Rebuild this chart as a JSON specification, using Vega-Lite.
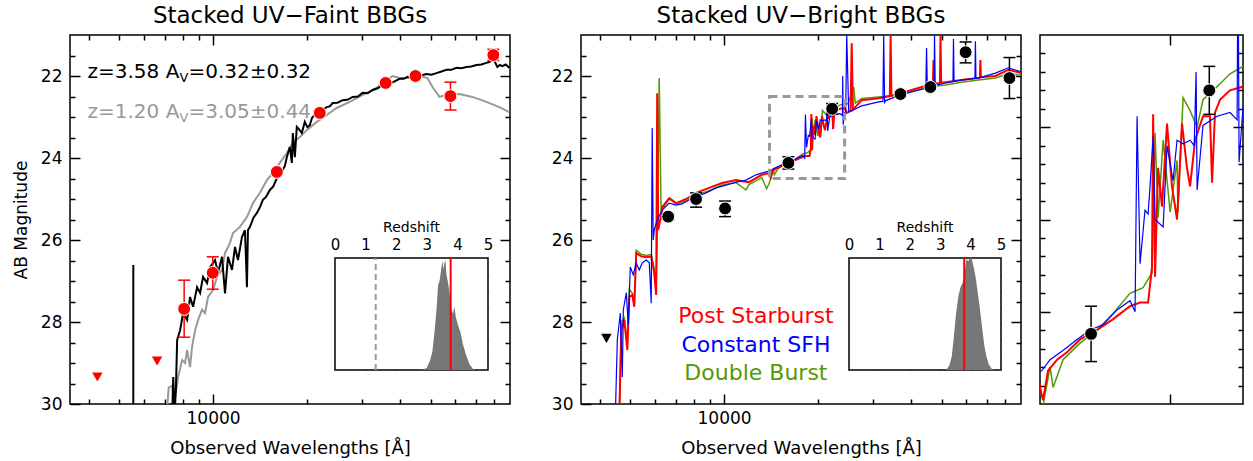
{
"$schema": "https://vega.github.io/schema/vega-lite/v6.json",
"background": "white",
"padding": {"left": 11, "top": 4, "right": 0, "bottom": 0},
"config": {
  "view": {"stroke": "black", "strokeWidth": 1.5},
  "font": "DejaVu Sans",
  "axis": {"zindex": 1, "grid": false, "domain": false, "labelFlush": false, "labelOverlap": false, "tickColor": "black", "tickWidth": 1.5, "labelColor": "black", "labelFont": "DejaVu Sans", "labelFontSize": 17, "titleFont": "DejaVu Sans", "titleFontSize": 18, "titleFontWeight": "normal", "titleColor": "black"},
  "title": {"font": "DejaVu Sans", "fontSize": 23, "fontWeight": "normal", "color": "black", "baseline": "alphabetic", "offset": 6}
},
"datasets": {
  "faint": [
    {"w":7389,"m":30.3,"s":"k"},{"w":7450,"m":29.34,"s":"k"},{"w":7520,"m":30.3,"s":"k"},{"w":7600,"m":29.6,"s":"k"},{"w":7667,"m":28.44,"s":"k"},{"w":7838,"m":28.2,"s":"k"},{"w":8014,"m":27.78,"s":"k"},{"w":8254,"m":27.95,"s":"k"},{"w":8437,"m":27.39,"s":"k"},{"w":8627,"m":27.63,"s":"k"},{"w":8886,"m":27.15,"s":"k"},{"w":9086,"m":27.29,"s":"k"},{"w":9289,"m":26.9,"s":"k"},{"w":9567,"m":27.05,"s":"k"},{"w":9781,"m":26.66,"s":"k"},{"w":10149,"m":26.49,"s":"k"},{"w":10376,"m":26.8,"s":"k"},{"w":10687,"m":26.41,"s":"k"},{"w":10925,"m":27.3,"s":"k"},{"w":11170,"m":26.41,"s":"k"},{"w":11505,"m":26.73,"s":"k"},{"w":11763,"m":26.17,"s":"k"},{"w":12025,"m":26.49,"s":"k"},{"w":12386,"m":25.93,"s":"k"},{"w":12663,"m":25.76,"s":"k"},{"w":12851,"m":27.15,"s":"k"},{"w":12946,"m":25.76,"s":"k"},{"w":13139,"m":25.68,"s":"k"},{"w":13500,"m":25.45,"s":"k"},{"w":13837,"m":25.34,"s":"k"},{"w":14150,"m":25.2,"s":"k"},{"w":14463,"m":25.02,"s":"k"},{"w":14800,"m":24.95,"s":"k"},{"w":15229,"m":24.78,"s":"k"},{"w":15600,"m":24.7,"s":"k"},{"w":16036,"m":24.49,"s":"k"},{"w":16400,"m":24.42,"s":"k"},{"w":16762,"m":24.29,"s":"k"},{"w":17000,"m":24.2,"s":"k"},{"w":17264,"m":23.98,"s":"k"},{"w":17650,"m":23.73,"s":"k"},{"w":17913,"m":24.12,"s":"k"},{"w":18046,"m":23.39,"s":"k"},{"w":18314,"m":23.98,"s":"k"},{"w":18587,"m":23.24,"s":"k"},{"w":18900,"m":23.3,"s":"k"},{"w":19285,"m":23.39,"s":"k"},{"w":19716,"m":23.12,"s":"k"},{"w":20100,"m":23.25,"s":"k"},{"w":20457,"m":23.2,"s":"k"},{"w":20800,"m":23.02,"s":"k"},{"w":21225,"m":22.95,"s":"k"},{"w":21600,"m":22.97,"s":"k"},{"w":22025,"m":22.88,"s":"k"},{"w":22600,"m":22.82,"s":"k"},{"w":23191,"m":22.76,"s":"k"},{"w":23700,"m":22.74,"s":"k"},{"w":24242,"m":22.66,"s":"k"},{"w":25100,"m":22.65,"s":"k"},{"w":26102,"m":22.59,"s":"k"},{"w":27000,"m":22.58,"s":"k"},{"w":28105,"m":22.51,"s":"k"},{"w":29200,"m":22.5,"s":"k"},{"w":30261,"m":22.41,"s":"k"},{"w":31400,"m":22.42,"s":"k"},{"w":32583,"m":22.34,"s":"k"},{"w":33800,"m":22.3,"s":"k"},{"w":35083,"m":22.22,"s":"k"},{"w":36200,"m":22.22,"s":"k"},{"w":37485,"m":22.17,"s":"k"},{"w":38600,"m":22.12,"s":"k"},{"w":39766,"m":22.07,"s":"k"},{"w":41000,"m":22.07,"s":"k"},{"w":42170,"m":22.02,"s":"k"},{"w":43600,"m":22.04,"s":"k"},{"w":45073,"m":22.0,"s":"k"},{"w":46800,"m":21.98,"s":"k"},{"w":48529,"m":21.95,"s":"k"},{"w":50300,"m":21.97,"s":"k"},{"w":52251,"m":21.93,"s":"k"},{"w":54200,"m":21.89,"s":"k"},{"w":56234,"m":21.85,"s":"k"},{"w":58300,"m":21.85,"s":"k"},{"w":60547,"m":21.8,"s":"k"},{"w":62800,"m":21.81,"s":"k"},{"w":65190,"m":21.78,"s":"k"},{"w":67600,"m":21.77,"s":"k"},{"w":70191,"m":21.73,"s":"k"},{"w":72800,"m":21.72,"s":"k"},{"w":75555,"m":21.68,"s":"k"},{"w":77200,"m":21.66,"s":"k"},{"w":78976,"m":21.6,"s":"k"},{"w":80400,"m":21.65,"s":"k"},{"w":81942,"m":21.78,"s":"k"},{"w":83500,"m":21.73,"s":"k"},{"w":85027,"m":21.76,"s":"k"},{"w":87200,"m":21.72,"s":"k"},{"w":89529,"m":21.8,"s":"k"},
    {"w":7121,"m":30.1,"s":"g"},{"w":7200,"m":29.6,"s":"g"},{"w":7389,"m":29.55,"s":"g"},{"w":7500,"m":30.0,"s":"g"},{"w":7724,"m":29.34,"s":"g"},{"w":7955,"m":28.93,"s":"g"},{"w":8133,"m":29.0,"s":"g"},{"w":8254,"m":28.68,"s":"g"},{"w":8437,"m":29.1,"s":"g"},{"w":8564,"m":28.6,"s":"g"},{"w":8757,"m":28.2,"s":"g"},{"w":8952,"m":27.95,"s":"g"},{"w":9220,"m":27.7,"s":"g"},{"w":9427,"m":27.78,"s":"g"},{"w":9638,"m":27.39,"s":"g"},{"w":10000,"m":27.22,"s":"g"},{"w":10300,"m":26.9,"s":"g"},{"w":10687,"m":26.73,"s":"g"},{"w":10925,"m":26.32,"s":"g"},{"w":11336,"m":26.07,"s":"g"},{"w":11590,"m":25.83,"s":"g"},{"w":12204,"m":25.68,"s":"g"},{"w":12851,"m":25.44,"s":"g"},{"w":13434,"m":25.1,"s":"g"},{"w":14146,"m":24.85,"s":"g"},{"w":14896,"m":24.54,"s":"g"},{"w":15570,"m":24.37,"s":"g"},{"w":16395,"m":24.12,"s":"g"},{"w":17264,"m":23.88,"s":"g"},{"w":18046,"m":23.63,"s":"g"},{"w":19004,"m":23.49,"s":"g"},{"w":20009,"m":23.32,"s":"g"},{"w":21544,"m":23.12,"s":"g"},{"w":23191,"m":22.95,"s":"g"},{"w":24970,"m":22.78,"s":"g"},{"w":27490,"m":22.63,"s":"g"},{"w":30261,"m":22.46,"s":"g"},{"w":33557,"m":22.29,"s":"g"},{"w":36131,"m":22.1,"s":"g"},{"w":37762,"m":22.0,"s":"g"},{"w":39766,"m":22.05,"s":"g"},{"w":42800,"m":22.05,"s":"g"},{"w":46080,"m":22.0,"s":"g"},{"w":48888,"m":22.05,"s":"g"},{"w":50730,"m":22.27,"s":"g"},{"w":53417,"m":22.51,"s":"g"},{"w":56234,"m":22.46,"s":"g"},{"w":61888,"m":22.44,"s":"g"},{"w":68129,"m":22.51,"s":"g"},{"w":75555,"m":22.63,"s":"g"},{"w":83161,"m":22.76,"s":"g"},{"w":89529,"m":22.88,"s":"g"}
  ],
  "faintpts": [
    {"w":8075,"m":27.68,"lo":26.98,"hi":28.37},{"w":9978,"m":26.8,"lo":26.41,"hi":27.2},{"w":16036,"m":24.34,"lo":24.29,"hi":24.39},{"w":22025,"m":22.9,"lo":22.85,"hi":22.95},{"w":35862,"m":22.17,"lo":22.14,"hi":22.2},{"w":44728,"m":22.0,"lo":21.97,"hi":22.03},{"w":57928,"m":22.49,"lo":22.15,"hi":22.83},{"w":79560,"m":21.49,"lo":21.35,"hi":21.62}
  ],
  "faintlim": [{"w":4250,"m":29.34},{"w":6610,"m":28.95}],
  "fitlabels": [
    {"w":3950,"m":21.9,"k":"a","p1":"z=3.58 A","p2":"V","p3":"=0.32±0.32"},
    {"w":3950,"m":22.88,"k":"b","p1":"z=1.20 A","p2":"V","p3":"=3.05±0.44"}
  ],
  "bright": [
    {"w":4473,"m":30.3,"s":"b"},{"w":4540,"m":28.44,"s":"b"},{"w":4642,"m":27.78,"s":"b"},{"w":4710,"m":29.34,"s":"b"},{"w":4746,"m":27.7,"s":"b"},{"w":4852,"m":27.29,"s":"b"},{"w":4924,"m":28.07,"s":"b"},{"w":4997,"m":26.66,"s":"b"},{"w":5109,"m":26.85,"s":"b"},{"w":5223,"m":26.56,"s":"b"},{"w":5340,"m":26.73,"s":"b"},{"w":5459,"m":26.56,"s":"b"},{"w":5623,"m":26.49,"s":"b"},{"w":5749,"m":26.55,"s":"b"},{"w":5834,"m":27.54,"s":"b"},{"w":5877,"m":23.27,"s":"b"},{"w":5920,"m":26.0,"s":"b"},{"w":5965,"m":25.76,"s":"b"},{"w":6099,"m":25.51,"s":"b"},{"w":6328,"m":25.27,"s":"b"},{"w":6664,"m":25.1,"s":"b"},{"w":7017,"m":25.15,"s":"b"},{"w":7334,"m":25.12,"s":"b"},{"w":7724,"m":25.02,"s":"b"},{"w":8133,"m":24.95,"s":"b"},{"w":8757,"m":24.85,"s":"b"},{"w":9427,"m":24.73,"s":"b"},{"w":10149,"m":24.66,"s":"b"},{"w":10925,"m":24.59,"s":"b"},{"w":11763,"m":24.54,"s":"b"},{"w":12663,"m":24.41,"s":"b"},{"w":13634,"m":24.34,"s":"b"},
    {"w":14065,"m":24.32,"s":"b"},{"w":14390,"m":24.26,"s":"b"},{"w":14910,"m":24.21,"s":"b"},{"w":15490,"m":24.15,"s":"b"},{"w":16050,"m":24.1,"s":"b"},{"w":16640,"m":24.07,"s":"b"},{"w":17280,"m":23.99,"s":"b"},{"w":17910,"m":23.94,"s":"b"},{"w":18160,"m":24.0,"s":"b"},{"w":18260,"m":22.94,"s":"b"},{"w":18410,"m":23.74,"s":"b"},{"w":18660,"m":23.45,"s":"b"},{"w":18820,"m":23.47,"s":"b"},{"w":18920,"m":23.32,"s":"b"},{"w":19080,"m":23.05,"s":"b"},{"w":19180,"m":23.5,"s":"b"},{"w":19610,"m":23.54,"s":"b"},{"w":19820,"m":23.1,"s":"b"},{"w":20150,"m":23.29,"s":"b"},{"w":20370,"m":23.07,"s":"b"},{"w":20710,"m":23.09,"s":"b"},{"w":21110,"m":23.07,"s":"b"},{"w":21350,"m":23.1,"s":"b"},{"w":21460,"m":22.7,"s":"b"},{"w":21520,"m":23.34,"s":"b"},{"w":21870,"m":22.99,"s":"b"},{"w":22730,"m":22.94,"s":"b"},{"w":23550,"m":22.92,"s":"b"},{"w":24010,"m":22.96,"s":"b"},{"w":24070,"m":22.0,"s":"b"},{"w":24140,"m":23.19,"s":"b"},{"w":24400,"m":22.89,"s":"b"},
    {"w":24603,"m":22.9,"s":"b"},{"w":24785,"m":21.0,"s":"b"},{"w":25154,"m":22.88,"s":"b"},{"w":27693,"m":22.73,"s":"b"},{"w":31392,"m":22.63,"s":"b"},{"w":32400,"m":22.62,"s":"b"},{"w":32583,"m":21.0,"s":"b"},{"w":32800,"m":22.64,"s":"b"},{"w":33068,"m":22.6,"s":"b"},{"w":35600,"m":22.51,"s":"b"},{"w":40058,"m":22.39,"s":"b"},{"w":44500,"m":22.3,"s":"b"},{"w":44741,"m":21.32,"s":"b"},{"w":45000,"m":22.28,"s":"b"},{"w":45406,"m":22.27,"s":"b"},{"w":47300,"m":22.24,"s":"b"},{"w":47463,"m":21.0,"s":"b"},{"w":47700,"m":22.23,"s":"b"},{"w":51485,"m":22.17,"s":"b"},{"w":54400,"m":22.14,"s":"b"},{"w":54605,"m":21.1,"s":"b"},{"w":54850,"m":22.13,"s":"b"},{"w":57928,"m":22.1,"s":"b"},{"w":64000,"m":22.06,"s":"b"},{"w":64235,"m":21.15,"s":"b"},{"w":64500,"m":22.05,"s":"b"},{"w":65674,"m":22.05,"s":"b"},{"w":74447,"m":21.93,"s":"b"},{"w":81942,"m":21.8,"s":"b"},{"w":90192,"m":21.9,"s":"b"},
    {"w":4607,"m":30.3,"s":"r"},{"w":4676,"m":28.2,"s":"r"},{"w":4781,"m":27.95,"s":"r"},{"w":4888,"m":28.68,"s":"r"},{"w":4960,"m":27.39,"s":"r"},{"w":5072,"m":27.34,"s":"r"},{"w":5146,"m":27.63,"s":"r"},{"w":5223,"m":26.32,"s":"r"},{"w":5419,"m":26.4,"s":"r"},{"w":5623,"m":26.42,"s":"r"},{"w":5834,"m":26.4,"s":"r"},{"w":5965,"m":26.8,"s":"r"},{"w":6052,"m":27.34,"s":"r"},{"w":6099,"m":22.42,"s":"r"},{"w":6143,"m":25.76,"s":"r"},{"w":6281,"m":25.4,"s":"r"},{"w":6328,"m":25.2,"s":"r"},{"w":6664,"m":24.98,"s":"r"},{"w":7017,"m":25.1,"s":"r"},{"w":7554,"m":25.0,"s":"r"},{"w":8133,"m":24.85,"s":"r"},{"w":8952,"m":24.73,"s":"r"},{"w":9854,"m":24.61,"s":"r"},{"w":10925,"m":24.54,"s":"r"},{"w":12025,"m":24.59,"s":"r"},{"w":13238,"m":24.41,"s":"r"},{"w":13940,"m":24.37,"s":"r"},
    {"w":14115,"m":24.48,"s":"r"},{"w":14310,"m":24.32,"s":"r"},{"w":14670,"m":24.26,"s":"r"},{"w":15070,"m":24.22,"s":"r"},{"w":15620,"m":24.15,"s":"r"},{"w":16360,"m":24.1,"s":"r"},{"w":17100,"m":24.04,"s":"r"},{"w":17910,"m":23.97,"s":"r"},{"w":18410,"m":23.95,"s":"r"},{"w":18820,"m":23.95,"s":"r"},{"w":19020,"m":23.76,"s":"r"},{"w":19080,"m":22.93,"s":"r"},{"w":19180,"m":23.81,"s":"r"},{"w":19340,"m":23.22,"s":"r"},{"w":19550,"m":23.43,"s":"r"},{"w":19820,"m":22.98,"s":"r"},{"w":20090,"m":23.32,"s":"r"},{"w":20370,"m":23.5,"s":"r"},{"w":20650,"m":22.98,"s":"r"},{"w":20930,"m":23.22,"s":"r"},{"w":21110,"m":23.32,"s":"r"},{"w":21400,"m":23.07,"s":"r"},{"w":21870,"m":22.94,"s":"r"},{"w":22290,"m":22.94,"s":"r"},{"w":22420,"m":23.3,"s":"r"},{"w":22600,"m":22.92,"s":"r"},{"w":22920,"m":22.85,"s":"r"},{"w":23550,"m":22.8,"s":"r"},{"w":24400,"m":22.78,"s":"r"},
    {"w":24785,"m":22.9,"s":"r"},{"w":25500,"m":22.85,"s":"r"},{"w":25719,"m":21.2,"s":"r"},{"w":25950,"m":22.82,"s":"r"},{"w":27693,"m":22.59,"s":"r"},{"w":31392,"m":22.54,"s":"r"},{"w":34100,"m":22.49,"s":"r"},{"w":34296,"m":21.0,"s":"r"},{"w":34500,"m":22.48,"s":"r"},{"w":35600,"m":22.46,"s":"r"},{"w":40058,"m":22.34,"s":"r"},{"w":45406,"m":22.22,"s":"r"},{"w":46900,"m":22.2,"s":"r"},{"w":47114,"m":21.61,"s":"r"},{"w":47350,"m":22.19,"s":"r"},{"w":49400,"m":22.17,"s":"r"},{"w":49614,"m":21.0,"s":"r"},{"w":49850,"m":22.16,"s":"r"},{"w":51485,"m":22.15,"s":"r"},{"w":57928,"m":22.1,"s":"r"},{"w":66400,"m":22.04,"s":"r"},{"w":66650,"m":21.61,"s":"r"},{"w":66900,"m":22.03,"s":"r"},{"w":74447,"m":22.0,"s":"r"},{"w":81942,"m":21.85,"s":"r"},{"w":90192,"m":21.93,"s":"r"},
    {"w":4607,"m":30.3,"s":"gr"},{"w":4676,"m":28.0,"s":"gr"},{"w":4781,"m":27.9,"s":"gr"},{"w":4888,"m":28.5,"s":"gr"},{"w":4960,"m":27.2,"s":"gr"},{"w":5072,"m":27.3,"s":"gr"},{"w":5146,"m":27.55,"s":"gr"},{"w":5223,"m":26.25,"s":"gr"},{"w":5419,"m":26.35,"s":"gr"},{"w":5623,"m":26.38,"s":"gr"},{"w":5834,"m":26.35,"s":"gr"},{"w":5965,"m":26.7,"s":"gr"},{"w":6052,"m":27.1,"s":"gr"},{"w":6099,"m":26.0,"s":"gr"},{"w":6190,"m":22.05,"s":"gr"},{"w":6281,"m":25.5,"s":"gr"},{"w":6328,"m":25.25,"s":"gr"},{"w":6664,"m":25.0,"s":"gr"},{"w":7017,"m":25.12,"s":"gr"},{"w":7554,"m":25.05,"s":"gr"},{"w":8133,"m":24.9,"s":"gr"},{"w":8952,"m":24.8,"s":"gr"},{"w":9854,"m":24.66,"s":"gr"},{"w":10925,"m":24.6,"s":"gr"},{"w":11763,"m":24.78,"s":"gr"},{"w":12025,"m":24.65,"s":"gr"},{"w":13238,"m":24.48,"s":"gr"},{"w":13700,"m":24.75,"s":"gr"},{"w":14000,"m":24.6,"s":"gr"},
    {"w":14390,"m":24.3,"s":"gr"},{"w":14510,"m":24.41,"s":"gr"},{"w":14910,"m":24.26,"s":"gr"},{"w":15620,"m":24.17,"s":"gr"},{"w":16360,"m":24.1,"s":"gr"},{"w":17100,"m":24.01,"s":"gr"},{"w":17910,"m":23.9,"s":"gr"},{"w":18560,"m":23.87,"s":"gr"},{"w":19020,"m":23.79,"s":"gr"},{"w":19180,"m":23.03,"s":"gr"},{"w":19340,"m":23.49,"s":"gr"},{"w":19610,"m":23.07,"s":"gr"},{"w":19990,"m":23.46,"s":"gr"},{"w":20370,"m":23.18,"s":"gr"},{"w":20420,"m":23.46,"s":"gr"},{"w":20710,"m":22.84,"s":"gr"},{"w":21110,"m":22.91,"s":"gr"},{"w":21520,"m":23.0,"s":"gr"},{"w":21870,"m":22.85,"s":"gr"},{"w":22730,"m":22.78,"s":"gr"},{"w":23550,"m":22.71,"s":"gr"},{"w":24400,"m":22.67,"s":"gr"},
    {"w":25000,"m":22.68,"s":"gr"},{"w":26102,"m":22.27,"s":"gr"},{"w":26400,"m":22.66,"s":"gr"},{"w":27693,"m":22.55,"s":"gr"},{"w":31392,"m":22.51,"s":"gr"},{"w":35600,"m":22.47,"s":"gr"},{"w":40058,"m":22.38,"s":"gr"},{"w":45406,"m":22.27,"s":"gr"},{"w":51485,"m":22.22,"s":"gr"},{"w":57928,"m":22.15,"s":"gr"},{"w":65674,"m":22.1,"s":"gr"},{"w":74447,"m":22.05,"s":"gr"},{"w":81942,"m":21.95,"s":"gr"},{"w":90192,"m":21.98,"s":"gr"}
  ],
  "brightpts": [
    {"w":6614,"m":25.43,"lo":25.36,"hi":25.5},{"w":8131,"m":25.0,"lo":24.85,"hi":25.2},{"w":10076,"m":25.23,"lo":25.05,"hi":25.43},{"w":16100,"m":24.12,"lo":23.97,"hi":24.27},{"w":22250,"m":22.8,"lo":22.67,"hi":22.93},{"w":36880,"m":22.44,"lo":22.4,"hi":22.48},{"w":46020,"m":22.27,"lo":22.23,"hi":22.31},{"w":59740,"m":21.42,"lo":21.17,"hi":21.68},{"w":82620,"m":22.05,"lo":21.55,"hi":22.55}
  ],
  "brightlim": [{"w":4188,"m":28.4}],
  "hist1": [
    {"z":2.85,"n":0},{"z":3.0,"n":0.02},{"z":3.1,"n":0.08},{"z":3.18,"n":0.16},{"z":3.26,"n":0.36},{"z":3.32,"n":0.55},{"z":3.37,"n":0.76},{"z":3.42,"n":0.8},{"z":3.47,"n":0.9},{"z":3.51,"n":0.98},{"z":3.54,"n":0.9},{"z":3.57,"n":0.95},{"z":3.61,"n":0.98},{"z":3.64,"n":0.86},{"z":3.68,"n":0.8},{"z":3.73,"n":0.72},{"z":3.8,"n":0.55},{"z":3.86,"n":0.5},{"z":3.9,"n":0.57},{"z":3.95,"n":0.47},{"z":4.02,"n":0.4},{"z":4.1,"n":0.34},{"z":4.18,"n":0.23},{"z":4.29,"n":0.13},{"z":4.4,"n":0.05},{"z":4.51,"n":0.01},{"z":4.6,"n":0}
  ],
  "hist2": [
    {"z":3.2,"n":0},{"z":3.3,"n":0.04},{"z":3.38,"n":0.12},{"z":3.45,"n":0.3},{"z":3.52,"n":0.5},{"z":3.6,"n":0.66},{"z":3.67,"n":0.74},{"z":3.74,"n":0.78},{"z":3.8,"n":0.86},{"z":3.86,"n":0.99},{"z":3.92,"n":0.97},{"z":3.98,"n":1.0},{"z":4.04,"n":0.99},{"z":4.1,"n":0.92},{"z":4.16,"n":0.84},{"z":4.22,"n":0.72},{"z":4.3,"n":0.56},{"z":4.37,"n":0.4},{"z":4.45,"n":0.22},{"z":4.52,"n":0.12},{"z":4.6,"n":0.05},{"z":4.7,"n":0.01},{"z":4.8,"n":0}
  ],
  "frame": [{"z0":0,"z1":5,"n0":0,"n1":1,"zc":2.5,"nt":1.27,"t":"Redshift"}]
},
"bounds": "flush",
"spacing": 71,
"hconcat": [
{
  "title": {"text": "Stacked UV−Faint BBGs"},
  "width": 440, "height": 369,
  "resolve": {"scale": {"x": "independent", "y": "independent", "color": "independent"}, "axis": {"x": "independent", "y": "independent"}},
  "layer": [
    {"data": {"name": "faint"}, "transform": [{"filter": "datum.s === 'g'"}],
     "mark": {"type": "line", "color": "#999999", "strokeWidth": 2, "clip": true},
     "encoding": {
       "x": {"field": "w", "type": "quantitative", "scale": {"type": "log", "domain": [3470, 90000], "nice": false}, "axis": {"orient": "bottom", "values": [10000], "format": "d", "tickSize": -10, "labelPadding": 16, "title": "Observed Wavelengths [Å]", "titlePadding": 13}},
       "y": {"field": "m", "type": "quantitative", "scale": {"domain": [21, 30], "reverse": true, "nice": false, "zero": false}, "axis": {"orient": "left", "values": [22, 24, 26, 28, 30], "tickSize": -10, "labelPadding": 18, "title": "AB Magnitude", "titleFontSize": 17, "titlePadding": 10}}}},
    {"data": {"name": "faint"}, "transform": [{"filter": "datum.s === 'k'"}],
     "mark": {"type": "line", "color": "black", "strokeWidth": 2, "clip": true},
     "encoding": {
       "x": {"field": "w", "type": "quantitative", "scale": {"type": "log", "domain": [3470, 90000], "nice": false}, "axis": {"orient": "bottom", "values": [4000, 5000, 6000, 7000, 8000, 9000, 20000, 30000, 40000, 50000, 60000, 70000, 80000], "tickSize": -5, "labels": false, "title": null}},
       "y": {"field": "m", "type": "quantitative", "scale": {"domain": [21, 30], "reverse": true, "nice": false, "zero": false}, "axis": {"orient": "left", "values": [21.5, 22.5, 23, 23.5, 24.5, 25, 25.5, 26.5, 27, 27.5, 28.5, 29, 29.5], "tickSize": -5, "labels": false, "title": null}}}},
    {"data": {"values": [{"w": 5543, "m": 26.61, "m2": 30}]},
     "mark": {"type": "rule", "color": "black", "strokeWidth": 2},
     "encoding": {
       "x": {"field": "w", "type": "quantitative", "scale": {"type": "log", "domain": [3470, 90000], "nice": false}, "axis": {"orient": "top", "values": [10000], "tickSize": -10, "labels": false, "title": null}},
       "y": {"field": "m", "type": "quantitative", "scale": {"domain": [21, 30], "reverse": true, "nice": false, "zero": false}, "axis": {"orient": "right", "values": [22, 24, 26, 28], "tickSize": -10, "labels": false, "title": null}},
       "y2": {"field": "m2"}}},
    {"data": {"name": "faintpts"},
     "mark": {"type": "rule", "color": "red", "strokeWidth": 1.5},
     "encoding": {
       "x": {"field": "w", "type": "quantitative", "scale": {"type": "log", "domain": [3470, 90000], "nice": false}, "axis": {"orient": "top", "values": [4000, 5000, 6000, 7000, 8000, 9000, 20000, 30000, 40000, 50000, 60000, 70000, 80000], "tickSize": -5, "labels": false, "title": null}},
       "y": {"field": "lo", "type": "quantitative", "scale": {"domain": [21, 30], "reverse": true, "nice": false, "zero": false}, "axis": {"orient": "right", "values": [21.5, 22.5, 23, 23.5, 24.5, 25, 25.5, 26.5, 27, 27.5, 28.5, 29, 29.5], "tickSize": -5, "labels": false, "title": null}},
       "y2": {"field": "hi"}}},
    {"data": {"name": "faintpts"},
     "mark": {"type": "tick", "orient": "horizontal", "size": 12, "thickness": 1.5, "color": "red", "opacity": 1},
     "encoding": {
       "x": {"field": "w", "type": "quantitative", "scale": {"type": "log", "domain": [3470, 90000], "nice": false}, "axis": null},
       "y": {"field": "lo", "type": "quantitative", "scale": {"domain": [21, 30], "reverse": true, "nice": false, "zero": false}, "axis": null}}},
    {"data": {"name": "faintpts"},
     "mark": {"type": "tick", "orient": "horizontal", "size": 12, "thickness": 1.5, "color": "red", "opacity": 1},
     "encoding": {
       "x": {"field": "w", "type": "quantitative", "scale": {"type": "log", "domain": [3470, 90000], "nice": false}, "axis": null},
       "y": {"field": "hi", "type": "quantitative", "scale": {"domain": [21, 30], "reverse": true, "nice": false, "zero": false}, "axis": null}}},
    {"data": {"name": "faintpts"},
     "mark": {"type": "point", "shape": "circle", "filled": true, "size": 165, "color": "red", "stroke": "white", "strokeWidth": 1, "opacity": 1},
     "encoding": {
       "x": {"field": "w", "type": "quantitative", "scale": {"type": "log", "domain": [3470, 90000], "nice": false}, "axis": null},
       "y": {"field": "m", "type": "quantitative", "scale": {"domain": [21, 30], "reverse": true, "nice": false, "zero": false}, "axis": null}}},
    {"data": {"name": "faintlim"},
     "mark": {"type": "point", "shape": "triangle-down", "filled": true, "size": 110, "color": "red", "opacity": 1},
     "encoding": {
       "x": {"field": "w", "type": "quantitative", "scale": {"type": "log", "domain": [3470, 90000], "nice": false}, "axis": null},
       "y": {"field": "m", "type": "quantitative", "scale": {"domain": [21, 30], "reverse": true, "nice": false, "zero": false}, "axis": null}}},
    {"data": {"name": "fitlabels"},
     "mark": {"type": "text", "align": "left", "baseline": "middle", "fontSize": 20},
     "encoding": {
       "x": {"field": "w", "type": "quantitative", "scale": {"type": "log", "domain": [3470, 90000], "nice": false}, "axis": null},
       "y": {"field": "m", "type": "quantitative", "scale": {"domain": [21, 30], "reverse": true, "nice": false, "zero": false}, "axis": null},
       "color": {"field": "k", "type": "nominal", "scale": {"domain": ["a", "b"], "range": ["#000000", "#999999"]}, "legend": null},
       "text": {"field": "p1"}}},
    {"data": {"name": "fitlabels"},
     "mark": {"type": "text", "align": "left", "baseline": "middle", "fontSize": 13, "dx": 92, "dy": 6},
     "encoding": {
       "x": {"field": "w", "type": "quantitative", "scale": {"type": "log", "domain": [3470, 90000], "nice": false}, "axis": null},
       "y": {"field": "m", "type": "quantitative", "scale": {"domain": [21, 30], "reverse": true, "nice": false, "zero": false}, "axis": null},
       "color": {"field": "k", "type": "nominal", "scale": {"domain": ["a", "b"], "range": ["#000000", "#999999"]}, "legend": null},
       "text": {"field": "p2"}}},
    {"data": {"name": "fitlabels"},
     "mark": {"type": "text", "align": "left", "baseline": "middle", "fontSize": 20, "dx": 101},
     "encoding": {
       "x": {"field": "w", "type": "quantitative", "scale": {"type": "log", "domain": [3470, 90000], "nice": false}, "axis": null},
       "y": {"field": "m", "type": "quantitative", "scale": {"domain": [21, 30], "reverse": true, "nice": false, "zero": false}, "axis": null},
       "color": {"field": "k", "type": "nominal", "scale": {"domain": ["a", "b"], "range": ["#000000", "#999999"]}, "legend": null},
       "text": {"field": "p3"}}},
    {"data": {"name": "frame"},
     "mark": {"type": "rect", "fill": "white", "stroke": "black", "strokeWidth": 1.5},
     "encoding": {
       "x": {"field": "z0", "type": "quantitative", "scale": {"domain": [-8.66, 5.719], "nice": false, "zero": false}, "axis": {"orient": "top", "offset": -223, "values": [0, 1, 2, 3, 4, 5], "ticks": false, "labelFontSize": 15, "labelPadding": 6, "title": null}},
       "x2": {"field": "z1"},
       "y": {"field": "n0", "type": "quantitative", "scale": {"domain": [-0.3036, 2.991], "nice": false, "zero": false}, "axis": {"orient": "left", "offset": -265, "values": [0.14, 0.28, 0.42, 0.56, 0.7, 0.84], "tickSize": -4, "labels": false, "title": null}},
       "y2": {"field": "n1"}}},
    {"data": {"name": "frame"},
     "mark": {"type": "text", "align": "center", "baseline": "middle", "fontSize": 14, "color": "black"},
     "encoding": {
       "x": {"field": "zc", "type": "quantitative", "scale": {"domain": [-8.66, 5.719], "nice": false, "zero": false}, "axis": null},
       "y": {"field": "nt", "type": "quantitative", "scale": {"domain": [-0.3036, 2.991], "nice": false, "zero": false}, "axis": null},
       "text": {"field": "t"}}},
    {"data": {"name": "hist1"},
     "mark": {"type": "area", "color": "#777777", "opacity": 1},
     "encoding": {
       "x": {"field": "z", "type": "quantitative", "scale": {"domain": [-8.66, 5.719], "nice": false, "zero": false}, "axis": {"orient": "bottom", "offset": -34, "values": [1, 2, 3, 4], "tickSize": -5, "labels": false, "title": null}},
       "y": {"field": "n", "type": "quantitative", "scale": {"domain": [-0.3036, 2.991], "nice": false, "zero": false}, "axis": {"orient": "right", "offset": -22, "values": [0.14, 0.28, 0.42, 0.56, 0.7, 0.84], "tickSize": -4, "labels": false, "title": null}}}},
    {"data": {"values": [{"z": 3.78, "n0": 0, "n1": 1}]},
     "mark": {"type": "rule", "color": "red", "strokeWidth": 2},
     "encoding": {
       "x": {"field": "z", "type": "quantitative", "scale": {"domain": [-8.66, 5.719], "nice": false, "zero": false}, "axis": null},
       "y": {"field": "n0", "type": "quantitative", "scale": {"domain": [-0.3036, 2.991], "nice": false, "zero": false}, "axis": null},
       "y2": {"field": "n1"}}},
    {"data": {"values": [{"z": 1.33, "n0": 0, "n1": 1}]},
     "mark": {"type": "rule", "color": "#999999", "strokeWidth": 2, "strokeDash": [6, 4]},
     "encoding": {
       "x": {"field": "z", "type": "quantitative", "scale": {"domain": [-8.66, 5.719], "nice": false, "zero": false}, "axis": null},
       "y": {"field": "n0", "type": "quantitative", "scale": {"domain": [-0.3036, 2.991], "nice": false, "zero": false}, "axis": null},
       "y2": {"field": "n1"}}}
  ]
},
{
  "bounds": "flush",
  "spacing": 19,
  "hconcat": [
  {
    "title": {"text": "Stacked UV−Bright BBGs"},
    "width": 440, "height": 369,
    "resolve": {"scale": {"x": "independent", "y": "independent"}, "axis": {"x": "independent", "y": "independent"}},
    "layer": [
      {"data": {"name": "bright"}, "transform": [{"filter": "datum.s === 'gr'"}],
       "mark": {"type": "line", "color": "#559900", "strokeWidth": 1.5, "clip": true},
       "encoding": {
         "x": {"field": "w", "type": "quantitative", "scale": {"type": "log", "domain": [3470, 90000], "nice": false}, "axis": {"orient": "bottom", "values": [10000], "format": "d", "tickSize": -10, "labelPadding": 16, "title": "Observed Wavelengths [Å]", "titlePadding": 13}},
         "y": {"field": "m", "type": "quantitative", "scale": {"domain": [21, 30], "reverse": true, "nice": false, "zero": false}, "axis": {"orient": "left", "values": [22, 24, 26, 28, 30], "tickSize": -10, "labelPadding": 18, "title": null}}}},
      {"data": {"name": "bright"}, "transform": [{"filter": "datum.s === 'r'"}],
       "mark": {"type": "line", "color": "#ff0000", "strokeWidth": 2, "clip": true},
       "encoding": {
         "x": {"field": "w", "type": "quantitative", "scale": {"type": "log", "domain": [3470, 90000], "nice": false}, "axis": {"orient": "bottom", "values": [4000, 5000, 6000, 7000, 8000, 9000, 20000, 30000, 40000, 50000, 60000, 70000, 80000], "tickSize": -5, "labels": false, "title": null}},
         "y": {"field": "m", "type": "quantitative", "scale": {"domain": [21, 30], "reverse": true, "nice": false, "zero": false}, "axis": {"orient": "left", "values": [21.5, 22.5, 23, 23.5, 24.5, 25, 25.5, 26.5, 27, 27.5, 28.5, 29, 29.5], "tickSize": -5, "labels": false, "title": null}}}},
      {"data": {"name": "bright"}, "transform": [{"filter": "datum.s === 'b'"}],
       "mark": {"type": "line", "color": "#0000ff", "strokeWidth": 1.2, "clip": true},
       "encoding": {
         "x": {"field": "w", "type": "quantitative", "scale": {"type": "log", "domain": [3470, 90000], "nice": false}, "axis": {"orient": "top", "values": [10000], "tickSize": -10, "labels": false, "title": null}},
         "y": {"field": "m", "type": "quantitative", "scale": {"domain": [21, 30], "reverse": true, "nice": false, "zero": false}, "axis": {"orient": "right", "values": [22, 24, 26, 28], "tickSize": -10, "labels": false, "title": null}}}},
      {"data": {"name": "brightpts"},
       "mark": {"type": "rule", "color": "black", "strokeWidth": 1.5},
       "encoding": {
         "x": {"field": "w", "type": "quantitative", "scale": {"type": "log", "domain": [3470, 90000], "nice": false}, "axis": {"orient": "top", "values": [4000, 5000, 6000, 7000, 8000, 9000, 20000, 30000, 40000, 50000, 60000, 70000, 80000], "tickSize": -5, "labels": false, "title": null}},
         "y": {"field": "lo", "type": "quantitative", "scale": {"domain": [21, 30], "reverse": true, "nice": false, "zero": false}, "axis": {"orient": "right", "values": [21.5, 22.5, 23, 23.5, 24.5, 25, 25.5, 26.5, 27, 27.5, 28.5, 29, 29.5], "tickSize": -5, "labels": false, "title": null}},
         "y2": {"field": "hi"}}},
      {"data": {"name": "brightpts"},
       "mark": {"type": "tick", "orient": "horizontal", "size": 12, "thickness": 1.5, "color": "black", "opacity": 1},
       "encoding": {
         "x": {"field": "w", "type": "quantitative", "scale": {"type": "log", "domain": [3470, 90000], "nice": false}, "axis": null},
         "y": {"field": "lo", "type": "quantitative", "scale": {"domain": [21, 30], "reverse": true, "nice": false, "zero": false}, "axis": null}}},
      {"data": {"name": "brightpts"},
       "mark": {"type": "tick", "orient": "horizontal", "size": 12, "thickness": 1.5, "color": "black", "opacity": 1},
       "encoding": {
         "x": {"field": "w", "type": "quantitative", "scale": {"type": "log", "domain": [3470, 90000], "nice": false}, "axis": null},
         "y": {"field": "hi", "type": "quantitative", "scale": {"domain": [21, 30], "reverse": true, "nice": false, "zero": false}, "axis": null}}},
      {"data": {"name": "brightpts"},
       "mark": {"type": "point", "shape": "circle", "filled": true, "size": 165, "color": "black", "stroke": "white", "strokeWidth": 1, "opacity": 1},
       "encoding": {
         "x": {"field": "w", "type": "quantitative", "scale": {"type": "log", "domain": [3470, 90000], "nice": false}, "axis": null},
         "y": {"field": "m", "type": "quantitative", "scale": {"domain": [21, 30], "reverse": true, "nice": false, "zero": false}, "axis": null}}},
      {"data": {"name": "brightlim"},
       "mark": {"type": "point", "shape": "triangle-down", "filled": true, "size": 110, "color": "black", "opacity": 1},
       "encoding": {
         "x": {"field": "w", "type": "quantitative", "scale": {"type": "log", "domain": [3470, 90000], "nice": false}, "axis": null},
         "y": {"field": "m", "type": "quantitative", "scale": {"domain": [21, 30], "reverse": true, "nice": false, "zero": false}, "axis": null}}},
      {"data": {"values": [{"w1": 14000, "w2": 24400, "m1": 22.5, "m2": 24.5}]},
       "mark": {"type": "rect", "fill": null, "fillOpacity": 0, "stroke": "#999999", "strokeWidth": 3, "strokeDash": [8, 5]},
       "encoding": {
         "x": {"field": "w1", "type": "quantitative", "scale": {"type": "log", "domain": [3470, 90000], "nice": false}, "axis": null},
         "x2": {"field": "w2"},
         "y": {"field": "m1", "type": "quantitative", "scale": {"domain": [21, 30], "reverse": true, "nice": false, "zero": false}, "axis": null},
         "y2": {"field": "m2"}}},
      {"data": {"values": [{"w": 12660, "m": 27.85, "t": "Post Starburst"}]},
       "mark": {"type": "text", "align": "center", "baseline": "middle", "fontSize": 22, "color": "#ff0000"},
       "encoding": {
         "x": {"field": "w", "type": "quantitative", "scale": {"type": "log", "domain": [3470, 90000], "nice": false}, "axis": null},
         "y": {"field": "m", "type": "quantitative", "scale": {"domain": [21, 30], "reverse": true, "nice": false, "zero": false}, "axis": null},
         "text": {"field": "t"}}},
      {"data": {"values": [{"w": 12660, "m": 28.56, "t": "Constant SFH"}]},
       "mark": {"type": "text", "align": "center", "baseline": "middle", "fontSize": 22, "color": "#0000ff"},
       "encoding": {
         "x": {"field": "w", "type": "quantitative", "scale": {"type": "log", "domain": [3470, 90000], "nice": false}, "axis": null},
         "y": {"field": "m", "type": "quantitative", "scale": {"domain": [21, 30], "reverse": true, "nice": false, "zero": false}, "axis": null},
         "text": {"field": "t"}}},
      {"data": {"values": [{"w": 12660, "m": 29.24, "t": "Double Burst"}]},
       "mark": {"type": "text", "align": "center", "baseline": "middle", "fontSize": 22, "color": "#559900"},
       "encoding": {
         "x": {"field": "w", "type": "quantitative", "scale": {"type": "log", "domain": [3470, 90000], "nice": false}, "axis": null},
         "y": {"field": "m", "type": "quantitative", "scale": {"domain": [21, 30], "reverse": true, "nice": false, "zero": false}, "axis": null},
         "text": {"field": "t"}}},
      {"data": {"name": "frame"},
       "mark": {"type": "rect", "fill": "white", "stroke": "black", "strokeWidth": 1.5},
       "encoding": {
         "x": {"field": "z0", "type": "quantitative", "scale": {"domain": [-8.816, 5.658], "nice": false, "zero": false}, "axis": {"orient": "top", "offset": -223, "values": [0, 1, 2, 3, 4, 5], "ticks": false, "labelFontSize": 15, "labelPadding": 6, "title": null}},
         "x2": {"field": "z1"},
         "y": {"field": "n0", "type": "quantitative", "scale": {"domain": [-0.3036, 2.991], "nice": false, "zero": false}, "axis": {"orient": "left", "offset": -268, "values": [0.14, 0.28, 0.42, 0.56, 0.7, 0.84], "tickSize": -4, "labels": false, "title": null}},
         "y2": {"field": "n1"}}},
      {"data": {"name": "frame"},
       "mark": {"type": "text", "align": "center", "baseline": "middle", "fontSize": 14, "color": "black"},
       "encoding": {
         "x": {"field": "zc", "type": "quantitative", "scale": {"domain": [-8.816, 5.658], "nice": false, "zero": false}, "axis": null},
         "y": {"field": "nt", "type": "quantitative", "scale": {"domain": [-0.3036, 2.991], "nice": false, "zero": false}, "axis": null},
         "text": {"field": "t"}}},
      {"data": {"name": "hist2"},
       "mark": {"type": "area", "color": "#777777", "opacity": 1},
       "encoding": {
         "x": {"field": "z", "type": "quantitative", "scale": {"domain": [-8.816, 5.658], "nice": false, "zero": false}, "axis": {"orient": "bottom", "offset": -34, "values": [1, 2, 3, 4], "tickSize": -5, "labels": false, "title": null}},
         "y": {"field": "n", "type": "quantitative", "scale": {"domain": [-0.3036, 2.991], "nice": false, "zero": false}, "axis": {"orient": "right", "offset": -20, "values": [0.14, 0.28, 0.42, 0.56, 0.7, 0.84], "tickSize": -4, "labels": false, "title": null}}}},
      {"data": {"values": [{"z": 3.79, "n0": 0, "n1": 1}]},
       "mark": {"type": "rule", "color": "red", "strokeWidth": 2},
       "encoding": {
         "x": {"field": "z", "type": "quantitative", "scale": {"domain": [-8.816, 5.658], "nice": false, "zero": false}, "axis": null},
         "y": {"field": "n0", "type": "quantitative", "scale": {"domain": [-0.3036, 2.991], "nice": false, "zero": false}, "axis": null},
         "y2": {"field": "n1"}}}
    ]
  },
  {
    "width": 203, "height": 369,
    "resolve": {"scale": {"x": "independent", "y": "independent"}, "axis": {"x": "independent", "y": "independent"}},
    "layer": [
      {"data": {"name": "bright"}, "transform": [{"filter": "datum.s === 'gr'"}],
       "mark": {"type": "line", "color": "#559900", "strokeWidth": 1.5, "clip": true},
       "encoding": {
         "x": {"field": "w", "type": "quantitative", "scale": {"type": "log", "domain": [14000, 24400], "nice": false}, "axis": {"orient": "bottom", "values": [20000], "tickSize": -10, "labels": false, "title": null}},
         "y": {"field": "m", "type": "quantitative", "scale": {"domain": [22.5, 24.5], "reverse": true, "nice": false, "zero": false}, "axis": {"orient": "left", "values": [23, 23.5, 24], "tickSize": -10, "labels": false, "title": null}}}},
      {"data": {"name": "bright"}, "transform": [{"filter": "datum.s === 'r'"}],
       "mark": {"type": "line", "color": "#ff0000", "strokeWidth": 2, "clip": true},
       "encoding": {
         "x": {"field": "w", "type": "quantitative", "scale": {"type": "log", "domain": [14000, 24400], "nice": false}, "axis": {"orient": "top", "values": [20000], "tickSize": -10, "labels": false, "title": null}},
         "y": {"field": "m", "type": "quantitative", "scale": {"domain": [22.5, 24.5], "reverse": true, "nice": false, "zero": false}, "axis": {"orient": "left", "values": [22.6, 22.7, 22.8, 22.9, 23.1, 23.2, 23.3, 23.4, 23.6, 23.7, 23.8, 23.9, 24.1, 24.2, 24.3, 24.4], "tickSize": -5, "labels": false, "title": null}}}},
      {"data": {"name": "bright"}, "transform": [{"filter": "datum.s === 'b'"}],
       "mark": {"type": "line", "color": "#0000ff", "strokeWidth": 1.2, "clip": true},
       "encoding": {
         "x": {"field": "w", "type": "quantitative", "scale": {"type": "log", "domain": [14000, 24400], "nice": false}, "axis": null},
         "y": {"field": "m", "type": "quantitative", "scale": {"domain": [22.5, 24.5], "reverse": true, "nice": false, "zero": false}, "axis": {"orient": "right", "values": [23, 23.5, 24], "tickSize": -10, "labels": false, "title": null}}}},
      {"data": {"name": "brightpts"},
       "mark": {"type": "rule", "color": "black", "strokeWidth": 1.5, "clip": true},
       "encoding": {
         "x": {"field": "w", "type": "quantitative", "scale": {"type": "log", "domain": [14000, 24400], "nice": false}, "axis": null},
         "y": {"field": "lo", "type": "quantitative", "scale": {"domain": [22.5, 24.5], "reverse": true, "nice": false, "zero": false}, "axis": {"orient": "right", "values": [22.6, 22.7, 22.8, 22.9, 23.1, 23.2, 23.3, 23.4, 23.6, 23.7, 23.8, 23.9, 24.1, 24.2, 24.3, 24.4], "tickSize": -5, "labels": false, "title": null}},
         "y2": {"field": "hi"}}},
      {"data": {"name": "brightpts"},
       "mark": {"type": "tick", "orient": "horizontal", "size": 12, "thickness": 1.5, "color": "black", "opacity": 1, "clip": true},
       "encoding": {
         "x": {"field": "w", "type": "quantitative", "scale": {"type": "log", "domain": [14000, 24400], "nice": false}, "axis": null},
         "y": {"field": "lo", "type": "quantitative", "scale": {"domain": [22.5, 24.5], "reverse": true, "nice": false, "zero": false}, "axis": null}}},
      {"data": {"name": "brightpts"},
       "mark": {"type": "tick", "orient": "horizontal", "size": 12, "thickness": 1.5, "color": "black", "opacity": 1, "clip": true},
       "encoding": {
         "x": {"field": "w", "type": "quantitative", "scale": {"type": "log", "domain": [14000, 24400], "nice": false}, "axis": null},
         "y": {"field": "hi", "type": "quantitative", "scale": {"domain": [22.5, 24.5], "reverse": true, "nice": false, "zero": false}, "axis": null}}},
      {"data": {"name": "brightpts"},
       "mark": {"type": "point", "shape": "circle", "filled": true, "size": 165, "color": "black", "stroke": "white", "strokeWidth": 1, "opacity": 1, "clip": true},
       "encoding": {
         "x": {"field": "w", "type": "quantitative", "scale": {"type": "log", "domain": [14000, 24400], "nice": false}, "axis": null},
         "y": {"field": "m", "type": "quantitative", "scale": {"domain": [22.5, 24.5], "reverse": true, "nice": false, "zero": false}, "axis": null}}}
    ]
  }
  ]
}
]
}
